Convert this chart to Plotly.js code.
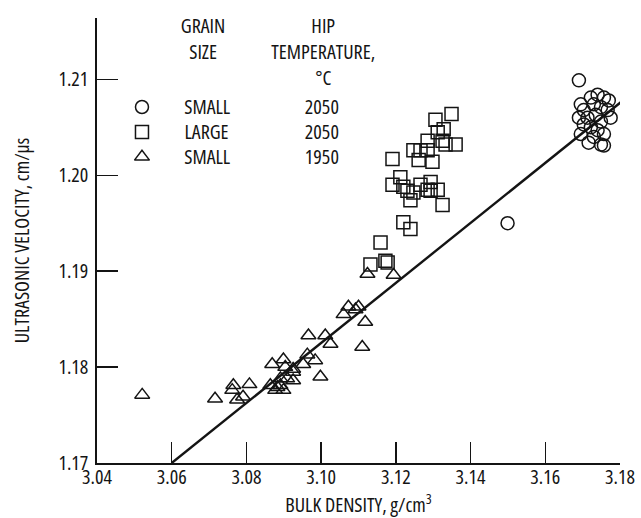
<!DOCTYPE html>
<html>
<head>
<meta charset="utf-8">
<script src="https://cdn.plot.ly/plotly-3.0.1.min.js"></script>
<style>
html,body{margin:0;padding:0;background:#fff;}
#chart{width:641px;height:518px;}
#chart svg text{font-stretch:75% !important;}
</style>
</head>
<body>
<div id="chart"></div>
<script>
// ---- data ----
const smallGrain2050_density = [3.1690, 3.1695, 3.1703, 3.1690, 3.1722, 3.1740, 3.1757, 3.1770, 3.1767, 3.1775, 3.1730, 3.1749, 3.1703, 3.1722, 3.1740, 3.1757, 3.1695, 3.1730, 3.1749, 3.1716, 3.1757, 3.1735, 3.1749, 3.1713, 3.1499];
const smallGrain2050_velocity = [1.2099, 1.2074, 1.2068, 1.2060, 1.2081, 1.2084, 1.2081, 1.2078, 1.2068, 1.2060, 1.2074, 1.2071, 1.2053, 1.2050, 1.2047, 1.2043, 1.2043, 1.2040, 1.2032, 1.2034, 1.2031, 1.2063, 1.2056, 1.2060, 1.1950];

const largeGrain2050_density = [3.1349, 3.1306, 3.1328, 3.1312, 3.1325, 3.1360, 3.1333, 3.1285, 3.1247, 3.1266, 3.1261, 3.1298, 3.1285, 3.1191, 3.1212, 3.1191, 3.1220, 3.1239, 3.1266, 3.1293, 3.1293, 3.1312, 3.1325, 3.1231, 3.1220, 3.1239, 3.1159, 3.1132, 3.1172, 3.1178, 3.1247, 3.1285];
const largeGrain2050_velocity = [1.2064, 1.2058, 1.2048, 1.2045, 1.2036, 1.2032, 1.2032, 1.2036, 1.2026, 1.2026, 1.2016, 1.2014, 1.2026, 1.2017, 1.1998, 1.1990, 1.1988, 1.1974, 1.1990, 1.1993, 1.1984, 1.1985, 1.1969, 1.1984, 1.1951, 1.1944, 1.1930, 1.1907, 1.1911, 1.1909, 1.1982, 1.1985];

const smallGrain1950_density = [3.0521, 3.0716, 3.0765, 3.0762, 3.0775, 3.0791, 3.0808, 3.0869, 3.0899, 3.0864, 3.0883, 3.0891, 3.0909, 3.0925, 3.0925, 3.0904, 3.0966, 3.1011, 3.1025, 3.0963, 3.0984, 3.0952, 3.0998, 3.1060, 3.1073, 3.1092, 3.1100, 3.1118, 3.1110, 3.1124, 3.1194, 3.0891, 3.0925, 3.0877, 3.0899];
const smallGrain1950_velocity = [1.1771, 1.1767, 1.1781, 1.1776, 1.1766, 1.1769, 1.1782, 1.1803, 1.1808, 1.1781, 1.1779, 1.1781, 1.1788, 1.1786, 1.1798, 1.1800, 1.1833, 1.1833, 1.1824, 1.1813, 1.1807, 1.1803, 1.1790, 1.1855, 1.1863, 1.1860, 1.1863, 1.1847, 1.1821, 1.1897, 1.1896, 1.1788, 1.1795, 1.1776, 1.1776];

const fitLine_density = [3.06, 3.1824];
const fitLine_velocity = [1.17, 1.2083];

const xTickValues = [3.04, 3.06, 3.08, 3.10, 3.12, 3.14, 3.16, 3.18];
const xTickLabels = ["3.04", "3.06", "3.08", "3.10", "3.12", "3.14", "3.16", "3.18"];
const yTickValues = [1.17, 1.18, 1.19, 1.20, 1.21];
const yTickLabels = ["1.17", "1.18", "1.19", "1.20", "1.21"];

const legendHeadGrain = "GRAIN<br>SIZE";
const legendHeadTemp = "HIP<br>TEMPERATURE,<br>°C";
const legendGrainSize = ["SMALL", "LARGE", "SMALL"];
const legendHipTemp = ["2050", "2050", "1950"];
const legendSymbols = ["circle-open", "square-open", "triangle-up-open"];

// ---- styling / layout ----
const FONT = "'Open Sans', 'DejaVu Sans Condensed', sans-serif";
const INK = "#141414";
const FS = 20;
const mk = (symbol) => ({symbol: symbol, size: 13, color: INK, line: {color: INK, width: 1.5}});

const traces = [
  {x: fitLine_density, y: fitLine_velocity, mode: "lines", line: {color: INK, width: 2.4}, hoverinfo: "skip"},
  {x: smallGrain1950_density, y: smallGrain1950_velocity, mode: "markers", marker: mk("triangle-up-open"), name: "SMALL 1950"},
  {x: largeGrain2050_density, y: largeGrain2050_velocity, mode: "markers", marker: mk("square-open"), name: "LARGE 2050"},
  {x: smallGrain2050_density, y: smallGrain2050_velocity, mode: "markers", marker: mk("circle-open"), name: "SMALL 2050"}
];

// legend key symbols on a hidden overlay axis spanning the plot area
const legendRowY = [0.800, 0.744, 0.688];
const legendSymX = 0.086;
traces.push({
  x: legendRowY.map(() => legendSymX), y: legendRowY, xaxis: "x2", yaxis: "y2",
  mode: "markers", hoverinfo: "skip",
  marker: {symbol: legendSymbols, size: 13, color: INK, line: {color: INK, width: 1.5}}
});

const annotations = [];
const ann = (text, x, y, xanchor, yanchor) => annotations.push({
  text: text, x: x, y: y, xref: "paper", yref: "paper",
  xanchor: xanchor || "center", yanchor: yanchor || "middle", align: "center",
  showarrow: false, borderpad: 0, font: {family: FONT, size: FS, color: INK}
});
ann(legendHeadGrain, 0.203, 1.016, "center", "top");
ann(legendHeadTemp, 0.432, 1.016, "center", "top");
legendGrainSize.forEach((t, i) => ann(t, 0.149, legendRowY[i], "left"));
legendHipTemp.forEach((t, i) => ann(t, 0.430, legendRowY[i]));

const axisCommon = {
  showline: true, linecolor: INK, linewidth: 1.6, mirror: false,
  showgrid: false, zeroline: false,
  ticks: "inside", ticklen: 21, tickwidth: 1.5, tickcolor: INK,
  tickfont: {family: FONT, size: FS, color: INK}
};

const layout = {
  width: 641, height: 518,
  margin: {l: 97, r: 21, t: 18, b: 55},
  paper_bgcolor: "#fff", plot_bgcolor: "#fff",
  showlegend: false,
  xaxis: Object.assign({}, axisCommon, {
    range: [3.04, 3.18], tickvals: xTickValues, ticktext: xTickLabels,
    ticklabelstandoff: -5,
    title: {text: "BULK DENSITY, g/cm<sup>3</sup>", font: {family: FONT, size: FS, color: INK}, standoff: 0}
  }),
  yaxis: Object.assign({}, axisCommon, {
    range: [1.17, 1.2164], tickvals: yTickValues, ticktext: yTickLabels,
    ticklabelstandoff: 3,
    title: {text: "ULTRASONIC VELOCITY, cm/μs", font: {family: FONT, size: FS, color: INK}, standoff: 14}
  }),
  xaxis2: {overlaying: "x", range: [0, 1], visible: false, fixedrange: true},
  yaxis2: {overlaying: "y", range: [0, 1], visible: false, fixedrange: true},
  annotations: annotations
};

Plotly.newPlot("chart", traces, layout, {displayModeBar: false, staticPlot: true});
</script>
</body>
</html>
